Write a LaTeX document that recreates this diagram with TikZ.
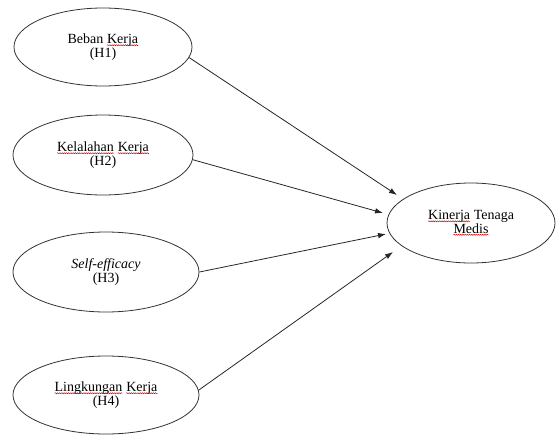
\documentclass[tikz,border=0pt]{standalone}
\usepackage{fontspec}
\setmainfont{Liberation Serif}
\usetikzlibrary{shapes.geometric,arrows.meta,decorations.pathmorphing}
\newcommand\redsq[1]{\tikz[baseline=(w.base)]{\node[shape=rectangle,draw=none,inner sep=0pt,outer sep=0pt,minimum size=0pt](w){#1};\draw[red!85!black,line width=0.5pt,decorate,decoration={snake,amplitude=0.5pt,segment length=2.2pt}]([yshift=-1.6pt]w.base west)--([yshift=-1.6pt]w.base east);}}
\tikzset{
  var/.style={ellipse,draw=black!80,line width=0.8pt,inner sep=0pt,align=center,
    font=\fontsize{14}{13.5}\selectfont},
  link/.style={draw=black!85,line width=0.8pt,-{Latex[length=8pt,width=5.5pt]}}
}
\begin{document}
\begin{tikzpicture}[x=1pt,y=-1pt]
\useasboundingbox (0,0) rectangle (556,434);
\node[var,minimum width=178pt,minimum height=78pt] (e1) at (103,47) {Beban \redsq{Kerja}\\(H1)};
\node[var,minimum width=180pt,minimum height=80pt] (e2) at (103,155) {\redsq{Kelalahan} \redsq{Kerja}\\(H2)};
\node[var,minimum width=186pt,minimum height=80pt] (e3) at (106,272) {\textit{Self-efficacy}\\(H3)};
\node[var,minimum width=186pt,minimum height=78pt] (e4) at (106,395) {\redsq{Lingkungan} \redsq{Kerja}\\(H4)};
\node[var,minimum width=168pt,minimum height=80pt] (y) at (471,223) {\redsq{Kinerja} Tenaga\\\redsq{Medis}};
\coordinate (t1) at (397,195);
\coordinate (t2) at (383,213);
\coordinate (t3) at (386,234);
\coordinate (t4) at (393,252);
\draw[link] (e1.-7) -- (t1);
\draw[link] (e2.-3) -- (t2);
\draw[link] (e3.east) -- (t3);
\draw[link] (e4.3) -- (t4);
\end{tikzpicture}
\end{document}
